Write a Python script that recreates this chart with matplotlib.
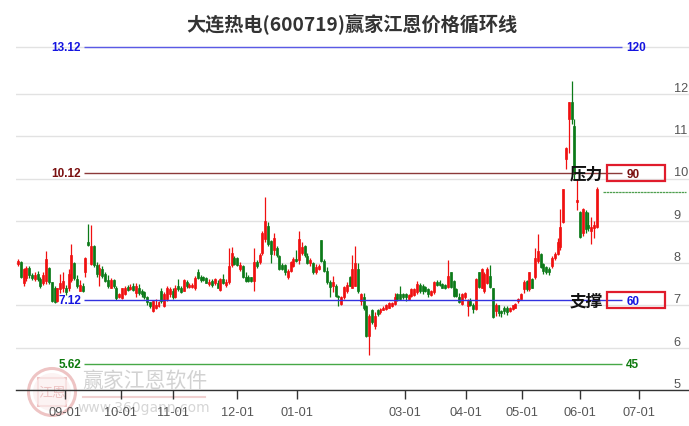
import matplotlib
matplotlib.use('Agg')
import matplotlib.pyplot as plt
from matplotlib.patches import Rectangle, Circle

plt.rcParams['font.family'] = ['Liberation Sans', 'Noto Sans CJK SC', 'DejaVu Sans']

# daily candles
opens = [7.98,8.03,7.52,7.65,7.88,7.72,7.62,7.75,7.62,7.52,
         7.58,7.88,7.55,7.40,7.10,7.38,7.42,7.42,7.40,7.60,
         8.00,7.62,7.35,7.45,7.78,8.50,7.98,8.40,7.95,7.72,
         7.85,7.75,7.60,7.42,7.60,7.42,7.20,7.18,7.28,7.44,
         7.38,7.47,7.30,7.40,7.35,7.31,7.19,7.07,6.87,6.95,
         6.99,7.35,6.99,7.15,7.27,7.35,7.21,7.45,7.42,7.35,
         7.55,7.43,7.43,7.40,7.78,7.68,7.66,7.64,7.50,7.58,
         7.52,7.54,7.37,7.62,7.48,7.56,7.95,8.12,8.11,7.86,
         7.92,7.68,7.66,7.66,7.58,8.03,8.02,8.25,8.57,8.87,
         8.53,8.30,8.35,8.17,7.95,7.95,7.68,7.82,7.94,8.10,
         8.08,8.25,8.40,8.17,8.00,8.00,7.78,7.86,8.55,8.06,
         7.82,7.55,7.45,7.47,7.22,7.03,7.19,7.35,7.66,7.42,
         7.47,7.86,7.10,7.20,6.98,6.27,6.90,6.52,6.90,6.84,
         6.90,6.92,6.95,6.99,7.03,7.27,7.27,7.27,7.27,7.15,
         7.22,7.25,7.31,7.48,7.47,7.43,7.39,7.25,7.31,7.55,
         7.55,7.50,7.48,7.43,7.78,7.58,7.38,7.20,7.03,7.19,
         6.99,7.11,7.01,6.92,7.78,7.42,7.35,7.54,7.70,7.40,
         6.87,7.00,6.87,6.95,6.95,6.87,6.91,6.95,7.10,7.16,
         7.39,7.58,7.39,7.62,7.66,8.05,8.21,7.98,7.90,7.86,
         7.94,8.11,8.21,8.37,8.98,10.46,11.40,11.80,11.25,9.45,
         9.20,8.70,9.20,8.90,8.77,8.82,8.85]
closes = [8.05,7.67,7.85,7.88,7.72,7.64,7.72,7.62,7.45,7.72,
          8.10,7.55,7.10,7.08,7.40,7.52,7.58,7.32,7.75,8.20,
          7.65,7.45,7.48,7.35,8.12,8.42,8.40,7.95,7.75,7.88,
          7.70,7.58,7.45,7.60,7.45,7.18,7.28,7.40,7.42,7.36,
          7.44,7.36,7.46,7.29,7.27,7.19,7.07,6.99,7.11,7.00,
          7.07,7.11,7.27,7.40,7.39,7.19,7.42,7.38,7.32,7.60,
          7.46,7.49,7.48,7.64,7.64,7.60,7.60,7.54,7.56,7.48,
          7.62,7.42,7.62,7.54,7.56,7.92,8.25,7.98,7.95,7.95,
          7.68,7.58,7.58,7.58,8.02,7.92,8.19,8.72,9.00,8.45,
          8.21,8.60,8.20,7.86,7.86,7.78,7.82,8.02,8.10,8.06,
          8.57,8.37,8.20,8.00,8.08,7.78,7.90,7.92,8.06,7.82,
          7.55,7.43,7.55,7.22,7.19,7.19,7.43,7.48,7.47,7.87,
          8.00,7.35,7.27,6.95,6.27,6.75,6.60,6.76,6.80,6.92,
          6.95,7.01,7.05,7.05,7.21,7.15,7.15,7.19,7.19,7.25,
          7.39,7.39,7.50,7.35,7.33,7.35,7.27,7.33,7.55,7.48,
          7.48,7.42,7.41,7.69,7.43,7.23,7.23,7.07,7.27,7.30,
          7.11,7.01,6.92,7.62,7.43,7.86,7.74,7.86,7.44,6.72,
          7.00,6.82,6.82,6.87,6.84,6.95,7.00,7.03,7.15,7.26,
          7.56,7.39,7.78,7.42,8.11,8.28,7.90,7.82,7.78,7.78,
          8.13,8.21,8.49,8.86,9.75,10.72,11.80,11.40,10.10,9.50,
          8.62,9.28,8.80,8.82,8.85,8.90,9.75]
highs = [8.10,8.05,7.88,7.92,7.92,7.76,7.78,7.82,7.66,7.80,
         8.28,7.90,7.55,7.45,7.42,7.75,7.78,7.48,7.85,8.46,
         8.02,7.72,7.60,7.52,8.15,8.92,8.90,8.42,8.02,7.98,
         7.92,7.80,7.72,7.65,7.62,7.45,7.30,7.42,7.46,7.48,
         7.50,7.52,7.52,7.50,7.38,7.33,7.22,7.08,7.13,7.14,
         7.10,7.40,7.32,7.45,7.43,7.40,7.48,7.62,7.45,7.62,
         7.60,7.52,7.52,7.70,7.85,7.72,7.70,7.68,7.62,7.62,
         7.65,7.60,7.65,7.75,7.62,8.35,8.37,8.16,8.15,8.02,
         7.95,7.78,7.72,7.68,8.35,8.08,8.25,8.75,9.57,8.97,
         8.55,8.70,8.40,8.20,8.00,7.97,7.85,8.05,8.14,8.32,
         8.75,8.50,8.43,8.25,8.13,8.02,7.98,7.98,8.55,8.10,
         7.90,7.60,7.70,7.50,7.25,7.22,7.45,7.55,7.70,8.20,
         8.40,8.00,7.30,7.30,7.00,6.80,6.92,6.85,6.92,6.95,
         6.98,7.03,7.08,7.07,7.30,7.30,7.47,7.30,7.30,7.27,
         7.42,7.42,7.58,7.52,7.50,7.47,7.42,7.36,7.58,7.60,
         7.60,7.53,7.50,8.07,7.80,7.60,7.42,7.30,7.30,7.32,
         7.15,7.18,7.05,7.65,7.80,7.88,7.80,7.90,7.95,7.42,
         7.05,7.02,6.90,6.98,6.98,6.97,7.02,7.05,7.18,7.30,
         7.60,7.60,7.80,7.65,8.35,8.68,8.25,8.00,7.92,7.90,
         8.16,8.26,8.60,9.28,9.75,10.74,11.80,12.30,11.40,10.00,
         9.22,9.30,9.25,9.20,9.08,9.00,9.80]
lows = [7.94,7.65,7.46,7.58,7.65,7.60,7.58,7.58,7.42,7.48,
        7.50,7.50,7.08,7.06,7.08,7.30,7.32,7.25,7.35,7.55,
        7.60,7.40,7.33,7.32,7.68,8.40,7.95,7.90,7.68,7.45,
        7.65,7.55,7.42,7.40,7.42,7.12,7.18,7.15,7.25,7.34,
        7.36,7.33,7.20,7.25,7.20,7.15,7.00,6.95,6.84,6.92,
        6.97,7.05,6.97,7.10,7.20,7.15,7.18,7.35,7.30,7.33,
        7.42,7.40,7.41,7.37,7.62,7.56,7.58,7.52,7.47,7.44,
        7.48,7.40,7.35,7.50,7.44,7.50,7.90,7.95,7.93,7.82,
        7.65,7.55,7.55,7.56,7.35,7.88,7.98,8.20,8.50,8.40,
        8.00,8.20,8.15,7.84,7.83,7.72,7.62,7.78,7.90,8.02,
        7.98,8.20,8.15,7.98,7.92,7.75,7.75,7.84,8.02,7.78,
        7.50,7.20,7.32,7.20,6.99,7.00,7.15,7.30,7.45,7.40,
        7.45,7.30,7.00,6.90,6.25,5.83,6.55,6.45,6.75,6.80,
        6.88,6.90,6.93,6.97,7.00,7.10,7.12,7.15,7.10,7.12,
        7.20,7.23,7.28,7.30,7.28,7.32,7.20,7.22,7.28,7.45,
        7.45,7.40,7.38,7.40,7.40,7.20,7.20,7.05,7.00,7.15,
        6.74,6.98,6.82,6.90,7.40,7.40,7.30,7.50,7.42,6.70,
        6.75,6.75,6.72,6.80,6.78,6.85,6.89,6.93,7.05,7.14,
        7.30,7.35,7.35,7.40,7.62,8.00,7.88,7.75,7.74,7.72,
        7.88,8.08,8.18,8.30,8.95,10.22,10.60,11.30,10.00,9.25,
        8.60,8.65,8.70,8.75,8.45,8.60,8.82]
assert len(opens) == len(closes) == len(highs) == len(lows)

# price cycle levels: price, angle label, colour
level_prices = [13.12, 10.12, 7.12, 5.62]
level_angles = ['120', '90', '60', '45']
level_colors = ['#5a5ae6', '#8c3a3a', '#3232e0', '#46a846']
level_text = ['#1414e0', '#7a1010', '#1414e0', '#0e7a0e']
last_price = 9.68

date_labels = ['09-01', '10-01', '11-01', '12-01', '01-01', '03-01', '04-01', '05-01', '06-01', '07-01']
date_pos = [16.7, 36.6, 55.2, 78.0, 99.3, 137.7, 159.4, 179.4, 200.0, 221.0]
price_ticks = [5, 6, 7, 8, 9, 10, 11, 12]

W, H = 689, 427
step = 2.81
def px(x):
    return (x - 18) / step

fig = plt.figure(figsize=(W / 100., H / 100.), dpi=100)
ax = fig.add_axes([16. / W, 36. / H, 1 - 16. / W, 391. / H])
ax.set_xlim(px(16), px(689))
ax.set_ylim(5, 5 + 391 / 42.3)
for s in ['top', 'left', 'right']:
    ax.spines[s].set_visible(False)
ax.spines['bottom'].set_color('#333333')
ax.spines['bottom'].set_linewidth(1.0)

ax.yaxis.tick_right()
ax.set_yticks(price_ticks)
ax.set_yticklabels([str(v) for v in price_ticks])
ax.tick_params(axis='y', length=0, pad=-11, labelsize=9.2, labelcolor='#555555')
for t in ax.get_yticklabels():
    t.set_verticalalignment('bottom')
ax.grid(axis='y', color='#e2e2e2', lw=1)
ax.set_axisbelow(True)

ax.set_xticks(date_pos)
ax.set_xticklabels(date_labels)
ax.tick_params(axis='x', length=6.5, width=1, color='#333333', pad=5, labelsize=9.2, labelcolor='#555555')

# extra grid line just under the top level
ax.axhline(13.1, color='#e2e2e2', lw=1, zorder=0)

for i in range(len(opens)):
    col = '#f01010' if closes[i] >= opens[i] else '#0c7a18'
    ax.vlines(i, lows[i], highs[i], color=col, lw=0.9, zorder=2)
    ax.bar(i, abs(closes[i] - opens[i]), bottom=min(opens[i], closes[i]), width=0.7, color=col, ec=col, lw=0.5, zorder=2)

for p, a, c, tc in zip(level_prices, level_angles, level_colors, level_text):
    ax.hlines(p, px(84), px(622), color=c, lw=1.0, zorder=3)
    ax.text(px(81), p, '%.2f' % p, color=tc, ha='right', va='center', fontsize=8.5, fontweight='bold', zorder=4)
    if a in ('120', '45'):
        ax.text(px(626), p, a, color=tc, ha='left', va='center', fontsize=8.5, fontweight='bold', zorder=4)
    else:
        ax.text(px(633), p - 0.02, a, color=tc, ha='center', va='center', fontsize=8.5, fontweight='bold', zorder=6)

ax.hlines(last_price, px(603), px(686), color='#4f9f4f', lw=0.9, linestyles=(0, (2, 0.5)), zorder=3)

# overlay in pixels for the boxes, captions and the watermark
ov = fig.add_axes([0, 0, 1, 1], zorder=-1)
ov.set_xlim(0, W)
ov.set_ylim(H, 0)
ov.axis('off')
ax.patch.set_alpha(0)

top = fig.add_axes([0, 0, 1, 1], zorder=5)
top.set_xlim(0, W)
top.set_ylim(H, 0)
top.axis('off')
top.text(352, 25, u'大连热电(600719)赢家江恩价格循环线', ha='center', va='center', fontsize=13.8,
         fontweight='bold', color='#333333', family=['Noto Sans CJK SC', 'DejaVu Sans'])
for y0, cap in [(166, u'压力'), (293, u'支撑')]:
    top.add_patch(Rectangle((607, y0), 58, 16, fill=False, ec='#e01c2c', lw=1.6))
    top.text(586, y0 + 8.5, cap, ha='center', va='center', fontsize=12, fontweight='bold', color='#111111',
             family=['Noto Sans CJK SC', 'DejaVu Sans'])

ov.add_patch(Circle((52, 393), 23.5, fill=False, ec='#eec4c4', lw=2.2))
ov.add_patch(Rectangle((38, 379), 28, 28, fill=False, ec='#eec4c4', lw=1.5))
ov.add_patch(Circle((52, 393), 19, fill=True, fc='#fbeeee', ec='none', alpha=0.7))
ov.text(52, 393, u'江恩', ha='center', va='center', fontsize=10, color='#eec4c4',
        family=['Noto Sans CJK SC', 'DejaVu Sans'])
ov.text(145, 381, u'赢家江恩软件', ha='center', va='center', fontsize=15, color='#d2d2d2',
        family=['Noto Sans CJK SC', 'DejaVu Sans'])
ov.plot([83, 205], [397.5, 397.5], color='#f0d0d0', lw=1.5)
ov.text(143.5, 408, 'www.360gann.com', ha='center', va='center', fontsize=10, color='#d6d6d6',
        family='DejaVu Sans')

fig.savefig('out.png', dpi=100)
